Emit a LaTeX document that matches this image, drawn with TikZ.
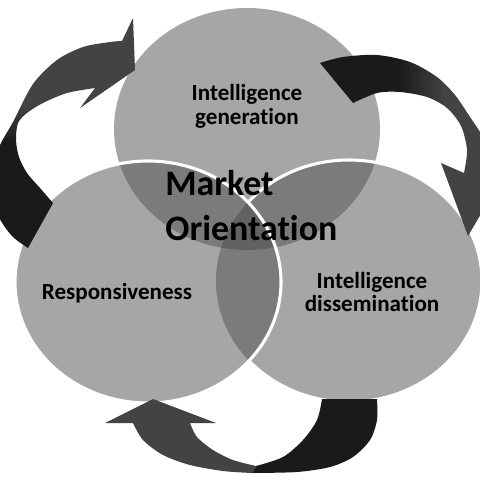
\documentclass[tikz,border=0pt]{standalone}
\usepackage{fontspec}
\setmainfont{Carlito}[Ligatures=NoCommon]
\usepackage{tikz}
\usetikzlibrary{positioning}

\definecolor{ring}{HTML}{A6A6A6}
\definecolor{ringtwo}{HTML}{7B7B7B}
\definecolor{ringthree}{HTML}{626262}
\definecolor{arrowdark}{HTML}{1A1A1A}
\definecolor{arrowgrey}{HTML}{434343}

\pgfdeclareverticalshading{shadeA}{100bp}{color(0bp)=(arrowdark); color(48bp)=(arrowdark); color(56bp)=(arrowgrey); color(100bp)=(arrowgrey)}
\pgfdeclarehorizontalshading{shadeB}{100bp}{color(0bp)=(arrowdark); color(46bp)=(arrowdark); color(58bp)=(arrowgrey); color(100bp)=(arrowgrey)}

\begin{document}
\begin{tikzpicture}[x=0.025cm, y=-0.025cm,
    ringsize/.style={x radius=133, y radius=121},
    rim/.style={draw=white, line width=2.2pt},
    ringtext/.style={font=\bfseries\fontsize{16.4}{17}\selectfont, align=center, inner sep=0pt},
    bigtext/.style={font=\bfseries\fontsize{25.5}{30}\selectfont, anchor=base west, inner sep=0pt}]
    \useasboundingbox (0,0) rectangle (480,480);
    \clip (0,0) rectangle (480,480);

    \coordinate (gen) at (247,129);
    \coordinate (resp) at (148,282);
    \coordinate (diss) at (349,281);

    \fill[ring] (gen) ellipse[ringsize] (resp) ellipse[ringsize] (diss) ellipse[ringsize];
    \begin{scope}
        \clip (resp) ellipse[ringsize];
        \fill[ringtwo] (diss) ellipse[ringsize];
    \end{scope}
    \begin{scope}
        \clip (gen) ellipse[ringsize];
        \fill[ringtwo] (resp) ellipse[ringsize] (diss) ellipse[ringsize];
        \clip (resp) ellipse[ringsize];
        \fill[ringthree] (diss) ellipse[ringsize];
    \end{scope}
    \begin{scope}[even odd rule]
        \clip (-10,-10) rectangle (490,490) (resp) ellipse[ringsize];
        \draw[rim] (diss) ellipse[ringsize];
    \end{scope}
    \draw[rim] (resp) ellipse[ringsize];

    % arrows
    \shade[shading=shadeA]
        (53,203) -- (28,248)
        -- plot[smooth] coordinates {(28,248) (12,236) (-2,215) (-8,185) (-2,150) (13,122) (33,84) (57,60) (83,47) (110,42) (122,41)}
        -- (133,18) -- (135,70) -- (80,108) -- (95,88)
        -- plot[smooth] coordinates {(95,88) (67,93) (43,103) (27,113) (18,123) (16,140) (19,157) (27,173) (40,188) (53,203)} -- cycle;
    \shade[shading=shadeB]
        (320,63)
        -- plot[smooth] coordinates {(320,63) (343,57) (377,55) (410,62) (437,77) (455,95) (470,117) (482,135) (492,152)}
        -- (508,168) -- (468,236) -- (441,163) -- (464,173)
        -- plot[smooth] coordinates {(464,173) (467,150) (461,126) (447,108) (427,97) (400,92) (377,93) (353,103)} -- cycle;
    \fill[arrowdark] (322,399) -- (377,399)
        -- plot[smooth] coordinates {(377,399) (377,420) (370,440) (353,457) (330,467) (297,472) (252,473)}
        -- (256,466)
        -- plot[smooth] coordinates {(256,466) (283,457) (303,440) (317,420) (322,399)} -- cycle;
    \fill[arrowgrey] (252,473)
        -- plot[smooth] coordinates {(252,473) (223,471) (190,465) (163,455) (143,440) (133,423)}
        -- (105,423) -- (153,399) -- (216,423) -- (190,423)
        -- plot[smooth] coordinates {(190,423) (197,437) (213,450) (233,460) (256,466)} -- cycle;

    \node[ringtext] (tgen) at (247,106) {Intelligence\\generation};
    \node[ringtext] (tresp) at (117,293) {Responsiveness};
    \node[ringtext] (tdiss) at (372,292) {Intelligence\\dissemination};
    \node[bigtext] (tmarket) at (165,195) {Market};
    \node[bigtext] (torient) at (165,240) {Orientation};
\end{tikzpicture}
\end{document}
